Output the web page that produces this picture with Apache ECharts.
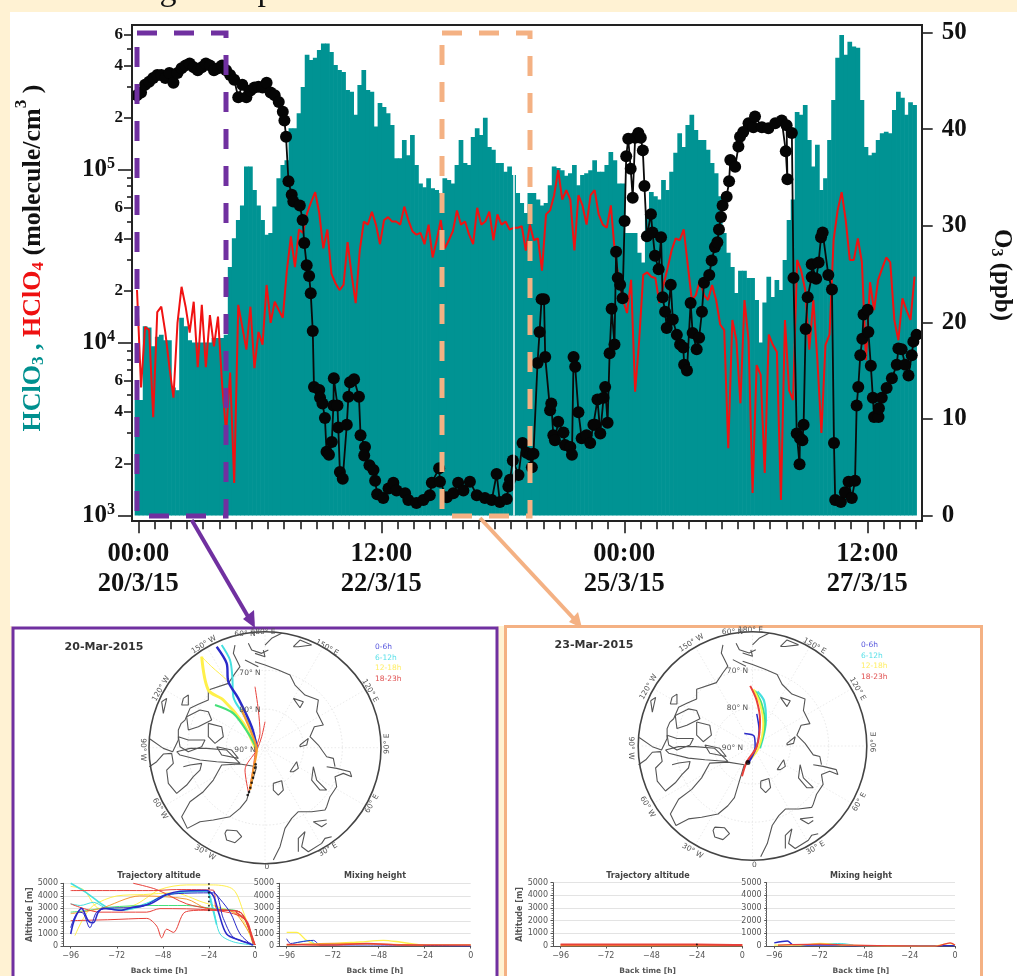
<!DOCTYPE html>
<html><head><meta charset="utf-8">
<style>html,body{margin:0;padding:0;background:#fff}#c{width:1017px;height:976px}</style>
<script src="https://cdn.jsdelivr.net/npm/echarts@6/dist/echarts.min.js"></script>
</head><body><div id="c"></div>
<script>
// Hourly HClO3 (molecule/cm3), first bar = 00:00 20/3/15
const hclo3=[4650,4650,12400,12200,9500,10800,11100,10300,10300,5500,5300,13900,12400,10300,10000,10000,10000,10000,10000,10600,10600,10600,11100,27300,
40000,51000,62000,104000,104000,76000,62000,51000,42000,43000,61000,89000,106000,113000,173000,173000,211000,300000,460000,430000,442000,491000,534000,534000,
478000,402000,376000,366000,288000,281000,207000,308000,376000,288000,281000,177000,242000,230000,211000,181000,116000,116000,148000,121000,158000,106000,83000,79000,
89000,78000,76000,73000,89000,87000,83000,106000,148000,109000,106000,154000,173000,158000,199000,135000,130000,109000,109000,97000,104000,93000,73000,64000,
56000,73000,73000,67000,62000,64000,81000,104000,102000,99000,92000,95000,106000,81000,93000,95000,99000,113000,97000,97000,106000,126000,113000,83000,
83000,43000,43000,43000,33000,29000,55000,74000,70000,67000,87000,76000,97000,125000,162000,135000,181000,207000,169000,148000,148000,130000,109000,95000,
70000,43000,33000,27300,19300,26000,26000,23600,23600,17600,10000,17000,24000,18300,23000,20100,30000,51000,67000,215000,207000,236000,148000,104000,
139000,76000,89000,148000,252000,442000,598000,460000,548000,513000,505000,252000,135000,121000,125000,148000,162000,165000,162000,221000,281000,260000,207000,245000,236000];
// Hourly HClO4 (molecule/cm3)
const hclo4=[20100,5500,12300,11800,3700,15000,16100,11400,7200,4800,13000,21000,16100,11400,17200,7200,16500,7200,14400,9500,14100,5800,3000,6700,
1540,16500,12300,9100,16100,7100,11500,9700,21500,13000,17200,15400,13900,26000,41000,27300,45000,43000,56000,65000,74000,56000,35000,45000,
25000,22000,20100,21500,38000,24600,16900,34000,50000,48000,57000,48000,37000,51000,53000,50000,50000,48000,61000,51000,44000,42000,43000,37000,
48000,31000,39000,51000,35000,39000,44000,58000,48000,50000,42000,37000,60000,48000,50000,57000,39000,55000,48000,50000,45000,46000,46000,47000,
34000,48000,39000,40000,26000,55000,58000,71000,99000,67000,76000,67000,34000,71000,62000,48000,71000,76000,55000,48000,46000,62000,33000,23000,
17600,14800,23000,5200,10300,24600,25400,24000,23600,16900,21500,26800,34000,40000,39000,45000,28000,17600,18800,23000,18800,17600,21500,17600,
12700,11800,2450,13500,10300,4450,17600,10300,1350,7400,6500,1760,11100,9700,8800,1230,13500,5300,4650,30000,26000,20100,9100,17600,
7900,3000,9700,11100,39000,58000,74000,51000,30000,30000,40000,29000,7900,22300,15400,23000,26800,31000,29000,13500,10300,18000,15400,13500,24000];
// O3: hours since 00:00 20/3/15 and ppb
const o3Hours=[0,1,2,3,4,5,6,7,8,9,10,11,12,13,14,15,16,17,18,19,20,21,22,23,24,25,26,27,28,29,30,31,32,33,34,35,36,36.4,36.8,37.4,38.2,38.6,40.2,40.9,41.3,41.9,42.5,42.9,43.4,43.7,45,45.2,45.8,46.4,46.8,47.4,48.1,48.5,48.6,49.5,49.7,50.1,50.8,51.8,52.2,52.6,53.6,54.8,55.2,56.3,56.1,57.4,58.4,58.8,59.3,60.8,62.1,63.3,64.1,66.2,67,69,70.7,72.3,72.8,74.6,74.8,76.5,78.1,79.3,80.6,82.2,83.9,85.9,87.6,88.8,89.6,91.3,91.7,92.1,92.8,94.2,95.2,96.2,97.1,97.5,97.9,98.9,99.4,99.9,100.5,100.8,102,102.3,102.8,103.2,104,105.3,105.7,107,107.4,107.8,108.2,109,109.8,111,111.9,112.7,113.1,113.7,114.4,115.2,115.6,116.2,116.7,117.2,117.9,118.3,118.7,119.3,119.9,120.4,120.8,121.3,121.9,122.4,123,123.8,124.4,124.9,125.3,125.9,126.9,127.3,127.9,128.8,129.4,129.8,130.4,130.8,131.8,132.3,133.3,134.1,134.9,135.1,135.8,136.7,137.2,138.2,138.8,139.5,140,141.3,141.9,142.7,143.3,143.7,144.2,144.6,145.6,146.2,146.5,147.7,148.5,148.9,149.7,151,152.2,152.6,154.3,155.9,157.6,159.2,160.2,160.6,160.4,161.7,162.1,162.9,163.6,163.7,164.3,164.6,165.1,165.6,166.6,166.6,167.7,168.3,168.9,169.3,170.7,171.6,172.1,172.4,173.8,174.8,175.7,176.5,177.3,177.7,178.1,178.6,179.1,179.4,180.4,180.6,181.2,181.7,182,183.1,183.2,183.9,185.1,186.4,187.6,188,188.8,189.7,190.5,191.3,191.7,192.5];
const o3Ppb=[43.5,43.8,44.6,44.9,45.3,45.6,45.6,45.3,45.8,44.8,45.8,46.3,46.6,46.8,46.4,46.1,46.4,46.8,46.6,46.1,46.3,46.6,46.1,45.6,45.1,43.3,44.6,43.3,44,44.3,44.4,44.3,44.8,43.8,43.5,42.8,41.8,40.9,39.2,34.6,33.2,32.5,32.1,30.6,28.2,25.9,24.8,23,19.1,13.3,13,12.2,11.6,10.1,6.6,6.3,7.6,11.4,14.2,11.4,9.1,4.5,3.8,9.4,12.3,13.8,14.1,12.3,8.3,7.1,6.2,5.2,4.7,3.6,2.2,1.8,2.8,3.4,2.6,2.3,1.6,1.3,1.6,2.1,3.4,4.9,3.5,1.9,2.3,3.4,2.6,3.5,2.1,1.8,1.6,4.3,1.4,1.7,3,3.7,5.7,4.2,7.5,6.5,6.3,5,6.4,15.8,19,22.4,22.4,16.4,10.9,11.6,8.3,7.8,9.7,8.6,7.3,7.1,6.3,16.4,15.4,10.7,8,8.3,7.5,9.4,9.4,12,8.5,12.2,13.3,9.6,16.8,21.4,17.7,27.3,24.6,23.9,22.5,30.5,37.2,39,35.9,32.9,39.1,39.6,39.1,37.8,34.1,28.9,31.2,29.3,26.9,25.5,28.8,22.6,21.1,19.4,23.9,20.3,18.7,17.7,17.4,15.6,15,22,18.9,17.2,18.4,21.1,24.1,24.9,26.4,27.8,28.3,29.6,30.9,32.1,33,34.6,36.8,36.1,38.2,39.2,39.7,40.6,40.2,41.3,40.2,40.1,40.6,40.9,37.7,34.8,40.4,39.6,24.6,8.5,5.3,8,7.8,9.4,19.3,22.6,24.7,26,24.5,26.2,28.8,29.3,24.9,23.4,7.5,1.6,1.4,2.4,3.5,1.8,3.6,11.4,13.3,16.6,18.3,20.8,21.3,19,15.5,12.2,10.2,10.2,11.1,12.2,13.2,14.2,15.6,17.3,17.2,15.6,14.5,16.6,18,18.7];
const dataGapHour=92.6;
const logMinor=[3000,5000,7000,8000,9000,30000,50000,70000,80000,90000,300000,500000];
const logLabelled=[2000,4000,6000,20000,40000,60000,200000,400000,600000];
const logDecades=[1000,10000,100000];
const o3Ticks=[0,10,20,30,40,50];
const hourTicks=[0,4,8,12,16,20,24,28,32,36,40,44,48,52,56,60,64,68,72,76,80,84,88,92,96,100,104,108,112,116,120,124,128,132,136,140,144,148,152,156,160,164,168,172,176,180,184,188,192];
const hourLabelTicks=[0,60,120,180];
const hourLabels={0:'00:00\n20/3/15',60:'12:00\n22/3/15',120:'00:00\n25/3/15',180:'12:00\n27/3/15'};

// Polar map outlines: offsets from the pole, disc radius 348
const coast=[
[[-90,308],[-95,283],[-75,243],[-90,223],[-110,193],[-170,173],[-170,143],[-200,130],[-225,118],[-240,83],[-252,72],[-260,53],[-260,23],[-277,-12],[-305,-2],[-345,26]],
[[-50,313],[-40,293],[-10,283],[10,293]],
[[-60,263],[-20,243]],
[[-347,-57],[-325,-42],[-305,-19],[-280,-17],[-275,-47],[-295,-67],[-290,-107],[-265,-137],[-235,-112],[-215,-87],[-195,-67],[-190,-47],[-225,-52],[-245,-57]],
[[-265,-12],[-225,-2],[-175,-2],[-115,-7],[-75,-47],[-145,-42],[-195,-37],[-255,-22],[-265,-12]],
[[-235,93],[-195,113],[-170,108],[-160,83],[-200,63],[-230,53],[-235,93]],
[[-170,73],[-130,63],[-125,33],[-150,13],[-170,33],[-170,73]],
[[-260,33],[-230,23],[-180,23],[-190,3],[-230,-12],[-255,3],[-260,33]],
[[-145,3],[-100,-7],[-80,-32],[-130,-22],[-145,3]],
[[-245,148],[-230,158],[-230,128],[-250,128],[-245,148]],
[[-310,138],[-295,148],[-305,103],[-310,138]],
[[-75,-49],[-130,-52],[-155,-97],[-185,-132],[-225,-162],[-250,-207],[-233,-242],[-195,-222],[-155,-217],[-105,-207],[-75,-182],[-55,-157],[-40,-107],[-25,-57],[-75,-49]],
[[-115,-247],[-85,-249],[-70,-267],[-90,-285],[-115,-277],[-120,-257],[-115,-247]],
[[25,-107],[50,-99],[55,-127],[40,-142],[25,-127],[25,-107]],
[[-30,258],[0,248],[40,233],[75,218],[90,188],[120,158],[160,143],[155,108],[175,68],[148,63],[135,33],[160,8],[185,-27],[205,-32],[210,-57]],
[[185,-57],[215,-62],[255,-72],[260,-87],[235,-77],[210,-87],[215,-117],[195,-147],[185,-177],[180,-187],[140,-192],[100,-192],[80,-212],[60,-242],[45,-297],[25,-337]],
[[185,-217],[145,-222],[170,-237],[185,-227]],
[[100,-312],[100,-272],[120,-252],[110,-297],[130,-312],[170,-287],[180,-272],[200,-267]],
[[145,-57],[155,-97],[185,-127],[165,-127],[140,-97],[145,-57]],
[[75,-72],[95,-42],[100,-62],[85,-72],[75,-72]],
[[105,8],[130,28],[125,8],[105,3],[105,8]],
[[85,148],[105,120],[115,138],[85,148]],
[[85,303],[105,323],[140,308],[100,303],[85,303]],
[[0,308],[20,328],[50,343]],
[[-30,283],[0,273],[-5,293]]
];
const BLUE='#2a2ac8',CYAN='#45e0e0',YEL='#fff04a',GRN='#45e07a',ORG='#f59a30',RED='#e8403a';
const mapTracksL=[
[YEL,1,[[-190,273],[-160,243],[-115,203],[-110,193]]],
[YEL,3,[[-190,273],[-170,173],[-125,143],[-65,73],[-35,13],[-25,-12]]],
[CYAN,2,[[-130,308],[-105,263],[-98,213],[-95,153],[-60,93],[-35,43],[-23,-2]]],
[GRN,2.2,[[-150,128],[-95,103],[-50,43],[-25,-2]]],
[BLUE,2.4,[[-145,303],[-115,253],[-110,198],[-80,148],[-40,63],[-25,3]]],
[RED,1,[[-30,183],[-20,113],[-15,43],[-27,-2],[-35,-57],[-47,-127]]],
[RED,1,[[0,78],[-10,33],[-25,-7],[-60,-67],[-50,-132]]],
[ORG,2.2,[[-70,113],[-40,43],[-25,-7],[-33,-57],[-45,-127]]]
];
const mapDotsL=[[-28,-50],[-30,-60],[-33,-75],[-36,-90],[-40,-105],[-44,-120],[-48,-133],[-52,-142]];
const mapTracksR=[
[CYAN,2.2,[[15,166],[35,138],[41,78],[23,-7]]],
[GRN,2,[[8,168],[28,128],[38,68],[21,-7]]],
[YEL,2,[[3,173],[23,128],[33,68],[18,-7],[-12,-47]]],
[BLUE,1.5,[[-25,38],[5,30],[8,-2],[-15,-50]]],
[BLUE,1.5,[[13,98],[20,48],[11,-7],[-12,-52]]],
[RED,2,[[-7,183],[13,138],[23,78],[13,-2],[-17,-47],[-32,-92]]]
];
const mapDotsR=[[-14,-50]];
// Altitude panels: [hours back, metres]
const altL=[
[YEL,1,[[-96,4750],[-89.4,4500],[-80.7,2980],[-63.4,3230],[-49.5,4500],[-35.6,4870],[-21.7,4870],[-11.3,4500],[-6,2700],[0,80]]],
[YEL,1,[[-93.8,830],[-89.4,2200],[-84.2,3230],[-72,3990],[-58,4100],[-42.5,4240],[-27,3480],[-21.7,3230],[-7.8,2360],[-0.9,80]]],
[CYAN,1,[[-96,3360],[-91,3230],[-84.2,3480],[-77.3,3000],[-68.6,2850],[-60,3230],[-46,3990],[-35.6,4370],[-25.2,4370],[-21.7,2980],[-18.2,960],[-11.3,330],[-0.9,80]]],
[CYAN,1.6,[[-96,5000],[-87.7,4240],[-77.3,3100],[-68.6,2900],[-58,3230],[-46,4100],[-25.2,4370],[-23,3480],[-20,1710]]],
[GRN,1,[[-96,2700],[-87.7,2820],[-75.5,3100],[-54.7,3230],[-35.6,3230],[-21.7,2980],[-7.8,2700],[-0.9,80]]],
[ORG,1,[[-96,2580],[-80.7,2980],[-60,3990],[-35.6,3740],[-25.2,2980],[-11.3,2700],[-2.6,960],[0,80]]],
[RED,1,[[-96,4420],[-53,4420],[-40.8,4500],[-21.7,4450],[-20,2980],[-7.8,2700],[-3.5,1460],[0,80]]],
[RED,1,[[-96,2020],[-75.5,2100],[-56.4,2200],[-51.2,1590],[-48.6,650],[-46,1340],[-42.5,1085],[-36.5,2700],[-27,2850],[-21.7,2850],[-7.8,2700],[-1.7,700]]],
[RED,1,[[-63.4,5000],[-51.2,4500],[-35.6,3360],[-21.7,2930],[-7.8,2700],[-0.9,80]]],
[RED,1,[[-96,3360],[-80.7,2700],[-56.4,2700],[-49.5,2980],[-21.7,2850],[-6,2200],[0,80]]],
[BLUE,1,[[-96,1460],[-92,2700],[-89.4,2600],[-86,1460],[-82.5,2700],[-77.3,3000],[-60,3100],[-46,4100],[-21.7,4240],[-16.5,2200],[-11.3,700],[-2,200]]],
[BLUE,1,[[-21.7,4370],[-13,2700],[-7.8,960],[-1.7,80]]],
[RED,1.6,[[-10,2700],[-4,1900],[-1.5,600],[0,80]]],
[BLUE,1.6,[[-96,960],[-93.8,2200],[-90.3,3000],[-86.8,2000],[-84.2,1850],[-81.6,2700],[-79,3000],[-70.3,2850],[-63.4,3100],[-54.7,3350],[-46,4100],[-39,4370],[-25.2,4420],[-21.7,4000],[-19,2700],[-14.8,960],[-7.8,450],[-0.9,80]]]
];
const altLDots=[[-24,4950],[-24,4600],[-24,4250],[-24,3900],[-24,3550],[-24,3200],[-24,2850]];
const mixL=[
[YEL,1.4,[[-96,1085],[-90.8,1085],[-85.6,450],[-78.6,80],[-70,200],[-57.7,320],[-45.6,450],[-37,320],[-24.7,80],[0,80]]],
[CYAN,1,[[-92.5,200],[-83.8,450],[-81,80]]],
[BLUE,1,[[-96,580],[-94,200],[-89,320],[-82,450],[-78.6,80],[-54,80],[0,0]]],
[ORG,1.4,[[-96,80],[-71.7,200],[-45.6,150],[-24.7,50]]],
[RED,1.4,[[-96,120],[-71.7,80],[-54,200],[-37,80],[-11,80],[0,80]]]
];
const altR=[
[ORG,2,[[-96,60],[0,60]]],
[RED,2,[[-96,110],[-24,110],[0,70]]]
];
const altRDots=[[-24,120]];
const mixR=[
[CYAN,1,[[-82,75],[-61,200],[-54,75]]],
[BLUE,1.4,[[-96,250],[-89,400],[-85.7,75],[-64.5,75],[-55.6,30],[0,30]]],
[YEL,1.2,[[-96,75],[-82,75],[-71.6,200],[-59,75],[-11.5,0],[-2.6,200],[0,75]]],
[RED,1.2,[[-94,75],[-71.6,150],[-55.6,75],[-9.7,0],[-2.6,250],[0,75]]]
];

const SERIF='"Liberation Serif",serif', SANS='"DejaVu Sans",sans-serif';
const T_OFF=-0.32;               // hourly samples sit just left of the tick mark
const XMIN=-1.556, XMAX=193.44;
const grids=[],xAxes=[],yAxes=[],series=[];
const noLine={show:false,onZero:false};

// main grid
grids.push({left:132,width:789.7,top:25,height:490.5});
const mainX=(ticks,len,labels)=>({type:'value',gridIndex:0,min:XMIN,max:XMAX,position:'bottom',offset:5.7,splitLine:{show:false},axisLine:noLine,
  axisTick:{length:len,customValues:ticks,lineStyle:{color:'#111',width:1.5}},
  axisLabel:labels?{show:true,customValues:labels,margin:18,fontFamily:SERIF,fontWeight:'bold',fontSize:26.5,lineHeight:30,color:'#111',formatter:v=>hourLabels[Math.round(v)]||''}:{show:false}});
xAxes.push(mainX(hourTicks,8),mainX(hourLabelTicks,12,hourLabelTicks));
const logAxis=(ticks,len,label)=>({type:'log',logBase:10,gridIndex:0,min:1000,max:684000,position:'left',splitLine:{show:false},axisLine:noLine,
  axisTick:{length:len,customValues:ticks,lineStyle:{color:'#111',width:1.5}},axisLabel:label||{show:false}});
yAxes.push(logAxis(logMinor,5));
yAxes.push({type:'value',gridIndex:0,min:0,max:50.78,position:'right',splitLine:{show:false},axisLine:noLine,
  axisTick:{length:11,customValues:o3Ticks,lineStyle:{color:'#111',width:1.5}},
  axisLabel:{customValues:o3Ticks,margin:20,fontFamily:SERIF,fontWeight:'bold',fontSize:25,color:'#111'}});
yAxes.push(logAxis(logDecades,14,{customValues:logDecades,margin:17,formatter:v=>'{b|10}{s|'+Math.round(Math.log10(v))+'}',
    rich:{b:{fontFamily:SERIF,fontWeight:'bold',fontSize:25,color:'#111'},s:{fontFamily:SERIF,fontWeight:'bold',fontSize:16,color:'#111',padding:[0,0,12,0]}}}));
yAxes.push(logAxis(logLabelled,8,{customValues:logLabelled,margin:9,fontFamily:SERIF,fontWeight:'bold',fontSize:17,color:'#111',formatter:v=>String(Math.round(v/Math.pow(10,Math.floor(Math.log10(v)+1e-9))))}));
series.push({type:'bar',name:'HClO3',xAxisIndex:0,yAxisIndex:0,barWidth:4.7,z:1,itemStyle:{color:'#009393'},silent:true,
  data:hclo3.map((v,i)=>[i+T_OFF,v]),
  markLine:{silent:true,symbol:'none',label:{show:false},animation:false,lineStyle:{color:'#fff',width:1.5,type:'solid'},data:[{xAxis:dataGapHour}]}});
series.push({type:'line',name:'HClO4',xAxisIndex:0,yAxisIndex:0,z:3,showSymbol:false,lineStyle:{color:'#f01212',width:2},data:hclo4.map((v,i)=>[i+T_OFF,v])});
series.push({type:'line',name:'O3',xAxisIndex:0,yAxisIndex:1,z:4,symbol:'circle',symbolSize:12,clip:false,showSymbol:true,showAllSymbol:true,
  lineStyle:{color:'#0a0a0a',width:1.8},itemStyle:{color:'#050505'},data:o3Hours.map((h,i)=>[h+T_OFF,o3Ppb[i]])});

// small panels
function addMap(cx,cy,R,tracks,dots,dotSize){
  const g=grids.length;
  grids.push({left:cx-R,top:cy-R,width:2*R,height:2*R});
  const ax={type:'value',gridIndex:g,min:-348,max:348,show:false};
  xAxes.push(Object.assign({},ax)); yAxes.push(Object.assign({},ax));
  const xi=xAxes.length-1, yi=yAxes.length-1;
  coast.forEach(c=>series.push({type:'line',xAxisIndex:xi,yAxisIndex:yi,showSymbol:false,silent:true,z:2,lineStyle:{color:'#555',width:1.1},data:c}));
  tracks.forEach(t=>series.push({type:'line',xAxisIndex:xi,yAxisIndex:yi,showSymbol:false,silent:true,z:3,smooth:0.3,lineStyle:{color:t[0],width:t[1]},data:t[2]}));
  series.push({type:'scatter',xAxisIndex:xi,yAxisIndex:yi,silent:true,z:4,symbolSize:dotSize,itemStyle:{color:'#000'},data:dots});
}
function addAlt(left,width,top,height,tracks,dots,yName){
  const g=grids.length;
  grids.push({left,width,top,height});
  xAxes.push({type:'value',gridIndex:g,min:-100,max:0,name:'Back time [h]',nameLocation:'middle',nameGap:21,nameTextStyle:{fontFamily:SANS,fontWeight:'bold',fontSize:7.5,color:'#555'},
    splitLine:{show:false},axisLine:{show:true,onZero:false,lineStyle:{color:'#555',width:1}},
    axisTick:{length:2.5,customValues:[-96,-72,-48,-24,0],lineStyle:{color:'#555'}},
    axisLabel:{customValues:[-96,-72,-48,-24,0],margin:6,fontFamily:SANS,fontSize:8,color:'#555',formatter:v=>String(Math.round(v)).replace('-','\u2212')}});
  yAxes.push({type:'value',gridIndex:g,min:0,max:5000,interval:1000,name:yName||'',nameLocation:'middle',nameGap:27,nameTextStyle:{fontFamily:SANS,fontWeight:'bold',fontSize:8,color:'#555'},
    splitLine:{show:true,lineStyle:{color:'#dcdcdc',width:0.8}},axisLine:{show:true,onZero:false,lineStyle:{color:'#555',width:1}},
    axisTick:{length:2.5,lineStyle:{color:'#555'}},minorTick:{show:true,splitNumber:5,length:1.5,lineStyle:{color:'#888'}},
    axisLabel:{margin:5,fontFamily:SANS,fontSize:8,color:'#555',formatter:v=>String(v)}});
  const xi=xAxes.length-1, yi=yAxes.length-1;
  tracks.forEach(t=>series.push({type:'line',xAxisIndex:xi,yAxisIndex:yi,showSymbol:false,silent:true,z:3,smooth:0.3,clip:false,lineStyle:{color:t[0],width:t[1]},data:t[2]}));
  if(dots) series.push({type:'scatter',xAxisIndex:xi,yAxisIndex:yi,silent:true,z:4,symbolSize:2,itemStyle:{color:'#000'},data:dots});
}
addMap(265,747.7,116,mapTracksL,mapDotsL,2.6);
addAlt(63,192,883.3,66,altL,altLDots,'Altitude [m]');
addAlt(279,191.7,883.3,66,mixL);
addMap(752.5,746,114.3,mapTracksR,mapDotsR,5);
addAlt(553,189.3,882.7,66.6,altR,altRDots,'Altitude [m]');
addAlt(766.7,188.3,882.7,66.6,mixR);

// page furniture
const CREAM='#fff2d3',PURPLE='#7030a0',PEACH='#f4b183';
const g=[];
const rect=(x,y,w,h,fill,z)=>g.push({type:'rect',shape:{x,y,width:w,height:h},style:{fill},z:z||-5,silent:true});
rect(0,0,1017,12,CREAM);rect(0,0,10,626,CREAM);rect(0,626,12,350,CREAM);rect(497,626,9,350,CREAM);
const txt=(x,y,t,o)=>g.push(Object.assign({type:'text',x,y,silent:true,z:20,style:Object.assign({text:t,align:'center',verticalAlign:'middle',fontFamily:SANS,fontSize:8,fill:'#555'},o&&o.style)},o&&o.el));
// cut-off heading at the top edge
txt(168,-9,'g',{style:{fontFamily:SERIF,fontSize:34,fill:'#111'}});
txt(266,-9,'p',{style:{fontFamily:SERIF,fontSize:34,fill:'#111'}});
// frame and selection boxes
g.push({type:'rect',shape:{x:132,y:25,width:790,height:496},style:{fill:null,stroke:'#222',lineWidth:2},z:15,silent:true});
const dash=(x,y,w,h,c)=>g.push({type:'rect',shape:{x,y,width:w,height:h},style:{fill:null,stroke:c,lineWidth:5,lineDash:[20,17]},z:16,silent:true});
dash(137,33,89,483,PURPLE);dash(442,33,88,483,PEACH);
// arrows
const arrow=(x1,y1,x2,y2,tip,b1,b2,c)=>{g.push({type:'line',shape:{x1,y1,x2,y2},style:{stroke:c,lineWidth:4},z:17,silent:true});
  g.push({type:'polygon',shape:{points:[tip,b1,b2]},style:{fill:c},z:17,silent:true});};
arrow(191.7,520,250,620,[255,628],[243,619],[254,610],PURPLE);
arrow(480,518,575,620,[582,628],[569,622],[578,612],PEACH);
// panels
g.push({type:'rect',shape:{x:13,y:628,width:484,height:360},style:{fill:'#fff',stroke:PURPLE,lineWidth:3},z:-4,silent:true});
g.push({type:'rect',shape:{x:505.5,y:626.5,width:476,height:360},style:{fill:'#fff',stroke:PEACH,lineWidth:3},z:-4,silent:true});
const mapLabels=[['60\u00b0 N',-20,-114,0],['180\u00b0 E',-2,-116,0],['150\u00b0 W',-61,-103,32],['120\u00b0 W',-104,-59,60],['90\u00b0 W',-122,2,-90],['60\u00b0 W',-105,61,-60],['30\u00b0 W',-60,105,-30],['0',2,119,0],['30\u00b0 E',63,102,30],['60\u00b0 E',107,56,60],['90\u00b0 E',122,-4,90],['120\u00b0 E',105,-57,-60],['150\u00b0 E',62,-100,-30],['70\u00b0 N',-15,-75,0],['80\u00b0 N',-15,-38,0],['90\u00b0 N',-20,2,0]];
function mapFurniture(cx,cy,R,date,dx,dy,lx,ly){
  [0.333,0.667].forEach(f=>g.push({type:'circle',shape:{cx,cy,r:R*f},style:{fill:null,stroke:'#ddd',lineWidth:0.7,lineDash:[1.5,2]},z:-3,silent:true}));
  for(let a=0;a<6;a++){const t=a*Math.PI/6;g.push({type:'line',shape:{x1:cx-R*Math.cos(t),y1:cy-R*Math.sin(t),x2:cx+R*Math.cos(t),y2:cy+R*Math.sin(t)},style:{stroke:'#e2e2e2',lineWidth:0.7,lineDash:[1.5,2]},z:-3,silent:true});}
  g.push({type:'circle',shape:{cx,cy,r:R},style:{fill:null,stroke:'#444',lineWidth:1.6},z:12,silent:true});
  mapLabels.forEach(m=>txt(cx+m[1],cy+m[2],m[0],{el:{rotation:m[3]*Math.PI/180},style:{fontSize:7.5,fill:'#555'}}));
  txt(dx,dy,date,{style:{fontSize:11,fontWeight:'bold',fill:'#333'}});
  [['0-6h','#5555dd'],['6-12h','#55dfe8'],['12-18h','#ffee66'],['18-23h','#e05050']].forEach((l,i)=>
    g.push({type:'text',x:lx,y:ly+i*10.7,silent:true,z:20,style:{text:l[0],align:'left',verticalAlign:'middle',fontFamily:SANS,fontSize:7.5,fill:l[1]}}));
}
mapFurniture(265,747.7,116,'20-Mar-2015',104,647,375,647);
mapFurniture(752.5,746,114.3,'23-Mar-2015',594,645,861,645);
const title=(x,t)=>txt(x,876,t,{style:{fontSize:8,fontWeight:'bold',fill:'#444'}});
title(159,'Trajectory altitude');title(375,'Mixing height');title(648,'Trajectory altitude');title(861,'Mixing height');
// axis titles
const st=(fill,size)=>({fontFamily:SERIF,fontWeight:'bold',fontSize:size,fill});
g.push({type:'text',x:33,y:258,rotation:Math.PI/2,silent:true,z:20,style:{align:'center',verticalAlign:'middle',
  text:'{t|HClO}{ts|3}{t| , }{r|HClO}{rs|4}{k| (molecule/cm}{ks|3}{k| )}',
  rich:{t:st('#00908f',26),ts:Object.assign(st('#00908f',17),{padding:[12,0,0,0]}),r:st('#ee1111',26),rs:Object.assign(st('#ee1111',17),{padding:[12,0,0,0]}),k:st('#111',26),ks:Object.assign(st('#111',17),{padding:[0,0,22,0]})}}});
g.push({type:'text',x:1001,y:275,rotation:-Math.PI/2,silent:true,z:20,style:{align:'center',verticalAlign:'middle',
  text:'{k|O}{s|3}{k| (ppb)}',rich:{k:st('#111',25),s:Object.assign(st('#111',16),{padding:[10,0,0,0]})}}});

const chart=echarts.init(document.getElementById('c'),null,{renderer:'canvas'});
chart.setOption({animation:false,backgroundColor:'#fff',tooltip:{show:false},legend:{show:false},grid:grids,xAxis:xAxes,yAxis:yAxes,series,graphic:{elements:g}});
</script></body></html>
